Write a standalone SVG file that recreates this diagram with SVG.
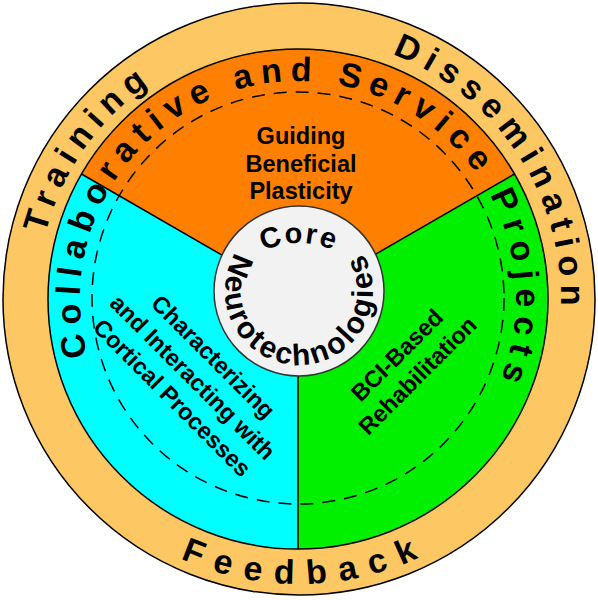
<svg xmlns="http://www.w3.org/2000/svg" width="598" height="600" viewBox="0 0 598 600">
<style>
.t{font-family:"Liberation Sans",Arial,sans-serif;font-weight:bold;fill:#000}
.ring{font-size:34px}
.lbl{font-size:23.5px;text-anchor:middle}
.ln{stroke:#000;stroke-width:1.5;fill:none}
</style>
<defs>
<path id="p-outer" d="M299,561 A262,262 0 0 1 299,37 A262,262 0 0 1 299,561"/>
<path id="p-mid" d="M298,517 A218,218 0 0 1 298,81 A218,218 0 0 1 298,517"/>
<path id="p-feed" d="M14,299 A285,285 0 0 0 584,299 A285,285 0 0 0 14,299"/>
<path id="p-neuro" d="M299,217 A74,74 0 0 0 299,365 A74,74 0 0 0 299,217"/>
<path id="p-core" d="M214,328 A85,85 0 0 1 384,328"/>
</defs>
<g id="outer-ring">
<circle cx="299" cy="299" r="296" fill="#FDC864" stroke="#000" stroke-width="1.5"/>
<text class="t ring" letter-spacing="7.5"><textPath href="#p-outer" startOffset="477">Training</textPath></text>
<text class="t ring" letter-spacing="7.5"><textPath href="#p-outer" startOffset="917.8">Dissemination</textPath></text>
<text class="t ring" letter-spacing="12.7"><textPath href="#p-feed" startOffset="325.3">Feedback</textPath></text>
</g>
<g id="sector-guiding">
<path d="M298,299 L81.5,174 A250,250 0 0 1 514.5,174 Z" fill="#FF8000"/>
</g>
<g id="sector-characterizing">
<path d="M298,299 L298,549 A250,250 0 0 1 81.5,174 Z" fill="#00FFFF"/>
</g>
<g id="sector-bci">
<path d="M298,299 L514.5,174 A250,250 0 0 1 298,549 Z" fill="#00F000"/>
</g>
<g id="connectors">
<circle class="ln" cx="298" cy="299" r="250"/>
<path class="ln" d="M298,299 L81.5,174 M298,299 L514.5,174 M298,299 L298,549"/>
<circle class="ln" cx="298" cy="298" r="206" stroke-dasharray="13 9"/>
</g>
<g id="collab-ring">
<text class="t ring" letter-spacing="8"><textPath href="#p-mid" startOffset="284.6">Collaborative and Service Projects</textPath></text>
</g>
<g id="label-guiding">
<text class="t lbl" x="301" y="144">Guiding</text>
<text class="t lbl" x="301" y="172">Beneficial</text>
<text class="t lbl" x="301" y="199">Plasticity</text>
</g>
<g id="label-characterizing" transform="translate(187,383) rotate(45)">
<text class="t lbl" x="0" y="-29">Characterizing</text>
<text class="t lbl" x="0" y="0">and Interacting with</text>
<text class="t lbl" x="0" y="29">Cortical Processes</text>
</g>
<g id="label-bci" transform="translate(413,371) rotate(-45)">
<text class="t lbl" x="0" y="-14.5">BCI-Based</text>
<text class="t lbl" x="0" y="14.5">Rehabilitation</text>
</g>
<g id="core">
<circle cx="299" cy="291" r="85" fill="#F2F2F2" stroke="#333" stroke-width="1.5"/>
<text class="t" font-size="29" letter-spacing="2" text-anchor="middle"><textPath href="#p-core" startOffset="50%">Core</textPath></text>
<text class="t" font-size="30" letter-spacing="2.5"><textPath href="#p-neuro" startOffset="75.7">Neurotechnologies</textPath></text>
</g>
</svg>
